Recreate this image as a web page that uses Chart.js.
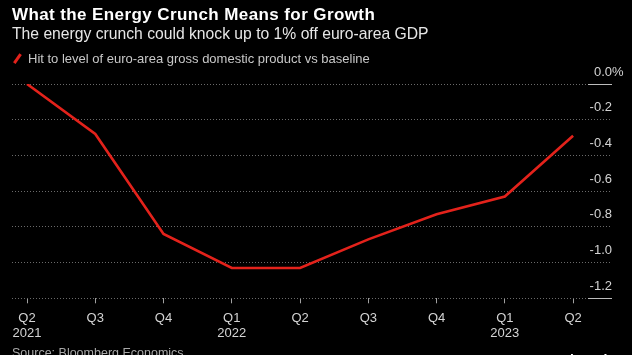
<!DOCTYPE html>
<html>
<head>
<meta charset="utf-8">
<script src="https://cdn.jsdelivr.net/npm/chart.js@4/dist/chart.umd.min.js"></script>
<style>
  html, body { margin: 0; padding: 0; background: #000; }
  #wrap { position: relative; width: 632px; height: 355px; overflow: hidden; background: #000; font-family: "Liberation Sans", Arial, sans-serif; }
  #c { position: absolute; left: 0; top: 0; }
  .t { position: absolute; white-space: nowrap; line-height: 1; }
  #title { left: 12px; top: 6px; font-size: 17px; letter-spacing: 0.4px; font-weight: bold; color: #fff; }
  #sub { left: 12px; top: 26px; font-size: 15.7px; color: #e6e6e6; }
  #leg { left: 28px; top: 52px; font-size: 13px; color: #c8c8c8; }
  #legicon { position: absolute; left: 15.5px; top: 53px; width: 2.6px; height: 11px; background: #e3221b; transform: rotate(35deg); }
  #src { left: 12px; top: 347px; font-size: 12.5px; color: #a8a8a8; }
  #logo { left: 560px; top: 353px; font-size: 14px; font-weight: bold; color: #fff; }
</style>
</head>
<body>
<div id="wrap">
  <canvas id="c" width="632" height="355"></canvas>
  <div class="t" id="title">What the Energy Crunch Means for Growth</div>
  <div class="t" id="sub">The energy crunch could knock up to 1% off euro-area GDP</div>
  <div id="legicon"></div>
  <div class="t" id="leg">Hit to level of euro-area gross domestic product vs baseline</div>
  <div class="t" id="src">Source: Bloomberg Economics</div>
  <div class="t" id="logo">Bloomberg</div>
</div>
<script>
const quarters = ["Q2", "Q3", "Q4", "Q1", "Q2", "Q3", "Q4", "Q1", "Q2"];
const years    = ["2021", "", "", "2022", "", "", "", "2023", ""];
const gdpHit   = [0.0, -0.28, -0.84, -1.03, -1.03, -0.87, -0.73, -0.63, -0.29];
const yTicks   = [0.0, -0.2, -0.4, -0.6, -0.8, -1.0, -1.2];
const seriesLabel = "Hit to level of euro-area gross domestic product vs baseline";

const points = gdpHit.map((v, i) => ({ x: i, y: v }));
const FONT = "'Liberation Sans', Arial, sans-serif";

const percentPlugin = {
  id: 'pct',
  afterDraw(chart) {
    const y = chart.scales.y, ctx = chart.ctx;
    ctx.save();
    ctx.strokeStyle = '#bdbdbd';
    ctx.lineWidth = 1;
    [0, -1.2].forEach(v => {
      const py = Math.round(y.getPixelForValue(v)) + 0.5;
      ctx.beginPath();
      ctx.moveTo(chart.chartArea.right - 24, py);
      ctx.lineTo(chart.chartArea.right, py);
      ctx.stroke();
    });
    ctx.font = "13px " + FONT;
    ctx.fillStyle = '#d4d4d4';
    ctx.textAlign = 'left';
    ctx.textBaseline = 'middle';
    ctx.fillText('%', chart.chartArea.right, y.getPixelForValue(0) - 12);
    ctx.restore();
  }
};

new Chart(document.getElementById('c'), {
  type: 'line',
  data: {
    datasets: [{
      label: seriesLabel,
      data: points,
      borderColor: '#e3221b',
      borderWidth: 2.6,
      pointRadius: 0,
      tension: 0,
      fill: false
    }]
  },
  options: {
    responsive: false,
    animation: false,
    events: [],
    layout: { padding: { left: 12, right: 20, top: 84, bottom: 6.5 } },
    plugins: { legend: { display: false }, tooltip: { enabled: false } },
    scales: {
      x: {
        type: 'linear',
        min: -0.22,
        max: 8.57,
        afterBuildTicks: (s) => { s.ticks = quarters.map((_, i) => ({ value: i })); },
        grid: { display: true, drawOnChartArea: false, drawTicks: true, tickLength: 5, tickColor: '#a0a0a0', tickWidth: 1 },
        border: { display: false },
        ticks: {
          autoSkip: false,
          maxRotation: 0,
          padding: 7,
          color: '#d4d4d4',
          font: { family: FONT, size: 13, lineHeight: 1.2 },
          callback: (v, i) => years[i] ? [quarters[i], years[i]] : quarters[i]
        }
      },
      y: {
        position: 'right',
        min: -1.2,
        max: 0,
        afterBuildTicks: (s) => { s.ticks = yTicks.map(v => ({ value: v })); },
        grid: { color: '#6a6a6a', lineWidth: 1, drawTicks: false },
        border: { display: false, dash: [1, 2] },
        ticks: {
          mirror: true,
          padding: 0,
          labelOffset: -12,
          color: '#d4d4d4',
          font: { family: FONT, size: 13 },
          callback: (v) => v.toFixed(1)
        }
      }
    }
  },
  plugins: [percentPlugin]
});
</script>
</body>
</html>
